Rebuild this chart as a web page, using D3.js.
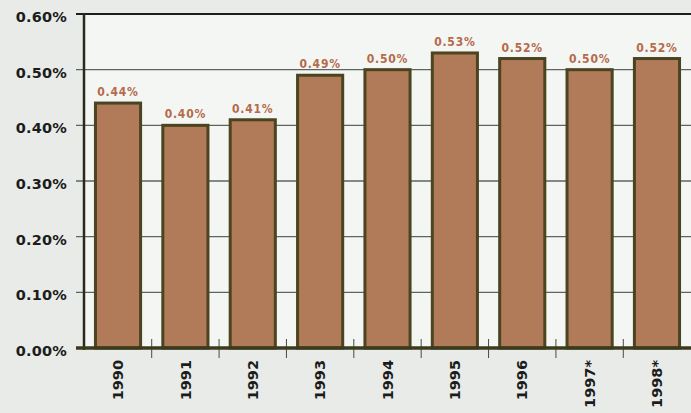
<!DOCTYPE html>
<html>
<head>
<meta charset="utf-8">
<script src="https://cdn.jsdelivr.net/npm/d3@7/dist/d3.min.js"></script>
<style>
  html, body { margin: 0; padding: 0; background: #e8ebe7; }
  svg { display: block; }
</style>
</head>
<body>
<svg id="chart" width="691" height="413"></svg>
<script>
// Yearly rate, in percent
const years = ["1990", "1991", "1992", "1993", "1994", "1995", "1996", "1997*", "1998*"];
const rates = [0.44, 0.40, 0.41, 0.49, 0.50, 0.53, 0.52, 0.50, 0.52];
const rateLabels = ["0.44%", "0.40%", "0.41%", "0.49%", "0.50%", "0.53%", "0.52%", "0.50%", "0.52%"];
const yTicks = [0, 0.1, 0.2, 0.3, 0.4, 0.5, 0.6];
const yTickLabels = ["0.00%", "0.10%", "0.20%", "0.30%", "0.40%", "0.50%", "0.60%"];

const plot = { left: 84, right: 691, top: 14, bottom: 348 };

const svg = d3.select("#chart");

const x = d3.scaleBand()
  .domain(years)
  .range([plot.left, plot.right])
  .paddingInner(0.33)
  .paddingOuter(0.17);

const y = d3.scaleLinear()
  .domain([0, 0.6])
  .range([plot.bottom, plot.top]);

// plot area background
svg.append("rect")
  .attr("x", plot.left).attr("y", plot.top)
  .attr("width", plot.right - plot.left).attr("height", plot.bottom - plot.top)
  .attr("fill", "#f4f6f3");

// horizontal gridlines (with short ticks left of the axis)
svg.append("g")
  .selectAll("line")
  .data(yTicks.filter(d => d > 0))
  .join("line")
  .attr("x1", plot.left - 8).attr("x2", plot.right)
  .attr("y1", d => y(d)).attr("y2", d => y(d))
  .attr("stroke", d => d === 0.6 ? "#1e1e1a" : "#5e6460")
  .attr("stroke-width", d => d === 0.6 ? 2 : 1.4);

// y tick labels
svg.append("g")
  .selectAll("text")
  .data(yTicks)
  .join("text")
  .attr("x", 67)
  .attr("y", d => y(d) + 3)
  .attr("dy", "0.35em")
  .attr("text-anchor", "end")
  .attr("font-family", "DejaVu Sans")
  .attr("font-weight", "bold")
  .attr("font-size", "14.5px")
  .attr("letter-spacing", "0.2px")
  .attr("fill", "#1c1c1c")
  .text((d, i) => yTickLabels[i]);

// bars
svg.append("g")
  .selectAll("rect")
  .data(years)
  .join("rect")
  .attr("x", d => x(d))
  .attr("y", (d, i) => y(rates[i]))
  .attr("width", x.bandwidth())
  .attr("height", (d, i) => y(0) - y(rates[i]))
  .attr("fill", "#b17a59")
  .attr("stroke", "#4a4420")
  .attr("stroke-width", 3);

// value labels above bars
svg.append("g")
  .selectAll("text")
  .data(years)
  .join("text")
  .attr("x", d => x(d) + x.bandwidth() / 2)
  .attr("y", (d, i) => y(rates[i]) - 7)
  .attr("text-anchor", "middle")
  .attr("font-family", "DejaVu Sans Condensed, DejaVu Sans")
  .attr("font-stretch", "condensed")
  .attr("font-weight", "bold")
  .attr("font-size", "12px")
  .attr("letter-spacing", "0.8px")
  .attr("fill", "#b46a4c")
  .text((d, i) => rateLabels[i]);

// y axis line
svg.append("line")
  .attr("x1", plot.left).attr("x2", plot.left)
  .attr("y1", plot.top - 1).attr("y2", plot.bottom + 2)
  .attr("stroke", "#2a2a1c")
  .attr("stroke-width", 2.5);

// x ticks between categories
const step = x.step();
const boundaries = years.slice(1).map(d => x(d) - (step - x.bandwidth()) / 2);
svg.append("g")
  .selectAll("line")
  .data(boundaries)
  .join("line")
  .attr("x1", d => d).attr("x2", d => d)
  .attr("y1", plot.bottom - 9).attr("y2", plot.bottom + 10)
  .attr("stroke", "#4a4a40")
  .attr("stroke-width", 1);

// baseline
svg.append("line")
  .attr("x1", plot.left - 8).attr("x2", plot.right)
  .attr("y1", y(0)).attr("y2", y(0))
  .attr("stroke", "#3c3a1e")
  .attr("stroke-width", 3.5);

// year labels, rotated
svg.append("g")
  .selectAll("text")
  .data(years)
  .join("text")
  .attr("transform", d => `translate(${x(d) + x.bandwidth() / 2},${plot.bottom + 12}) rotate(-90)`)
  .attr("dy", "0.36em")
  .attr("text-anchor", "end")
  .attr("font-family", "DejaVu Sans")
  .attr("font-weight", "bold")
  .attr("font-size", "14.5px")
  .attr("fill", "#1c1c1c")
  .text(d => d);
</script>
</body>
</html>
